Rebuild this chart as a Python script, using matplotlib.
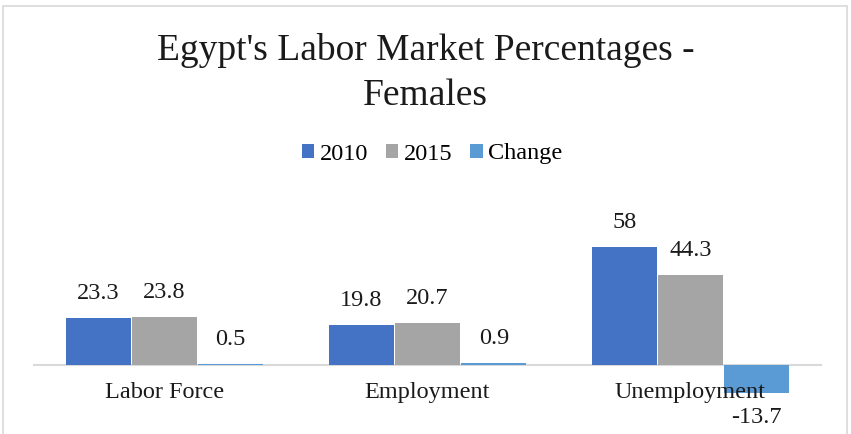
import matplotlib.pyplot as plt
from matplotlib.patches import Rectangle

plt.rcParams["font.family"] = ["Liberation Serif", "DejaVu Serif"]

categories = ["Labor Force", "Employment", "Unemployment"]
series = ["2010", "2015", "Change"]
values_2010 = [23.3, 19.8, 58]
values_2015 = [23.8, 20.7, 44.3]
values_change = [0.5, 0.9, -13.7]
labels_2010 = ["23.3", "19.8", "58"]
labels_2015 = ["23.8", "20.7", "44.3"]
labels_change = ["0.5", "0.9", "-13.7"]

colors = ["#4472C4", "#A5A5A5", "#5B9BD5"]

W, H = 851, 434
fig = plt.figure(figsize=(W / 100, H / 100), dpi=100)

# chart border (bottom is cut off in the reference)
fig.patches.append(Rectangle((3 / W, -0.1), 844 / W, 1.1 - 6 / H,
                             transform=fig.transFigure, fill=False,
                             edgecolor="#D9D9D9", linewidth=1.2))

# plot area in pixel terms: y=0 at pixel 365, about 2.034 px per unit
ymin, ymax = -20, 70
ppu = 2.034
top_px = 365 - ymax * ppu
bot_px = 365 - ymin * ppu
ax = fig.add_axes([33 / W, (H - bot_px) / H, 789 / W, (bot_px - top_px) / H])
ax.set_xlim(-0.5, 2.5)
ax.set_ylim(ymin, ymax)
ax.axis("off")

fs = 17.5
width = 0.252
x = list(range(len(categories)))
all_vals = [values_2010, values_2015, values_change]
all_labels = [labels_2010, labels_2015, labels_change]
for i, (vals, labs) in enumerate(zip(all_vals, all_labels)):
    pos = [c + (i - 1) * width for c in x]
    ax.bar(pos, vals, width=width - 0.004, color=colors[i], label=series[i], zorder=2)
    for p, v, t in zip(pos, vals, labs):
        off = 17.5 if v >= 0 else -18
        ax.annotate(t, (p, v), xytext=(0, off), textcoords="offset points",
                    ha="center", va="center", fontsize=fs, color="#1a1a1a")

ax.axhline(0, color="#D9D9D9", linewidth=1.5, zorder=1)

for c, name in zip(x, categories):
    ax.annotate(name, (c, 0), xytext=(0, -19.5), textcoords="offset points",
                ha="center", va="center", fontsize=fs, color="#1a1a1a", zorder=3)

fig.text(0.5, 1 - 73 / H, "Egypt's Labor Market Percentages -\nFemales",
         ha="center", va="center", fontsize=27, linespacing=1.38, color="#1a1a1a")

ax.legend(loc="center", bbox_to_anchor=(432 / W, 1 - 154 / H),
          bbox_transform=fig.transFigure, ncol=3, frameon=False,
          fontsize=fs, handlelength=0.5, handleheight=0.5,
          handletextpad=0.22, columnspacing=0.75)

fig.savefig("out.png", dpi=100)
